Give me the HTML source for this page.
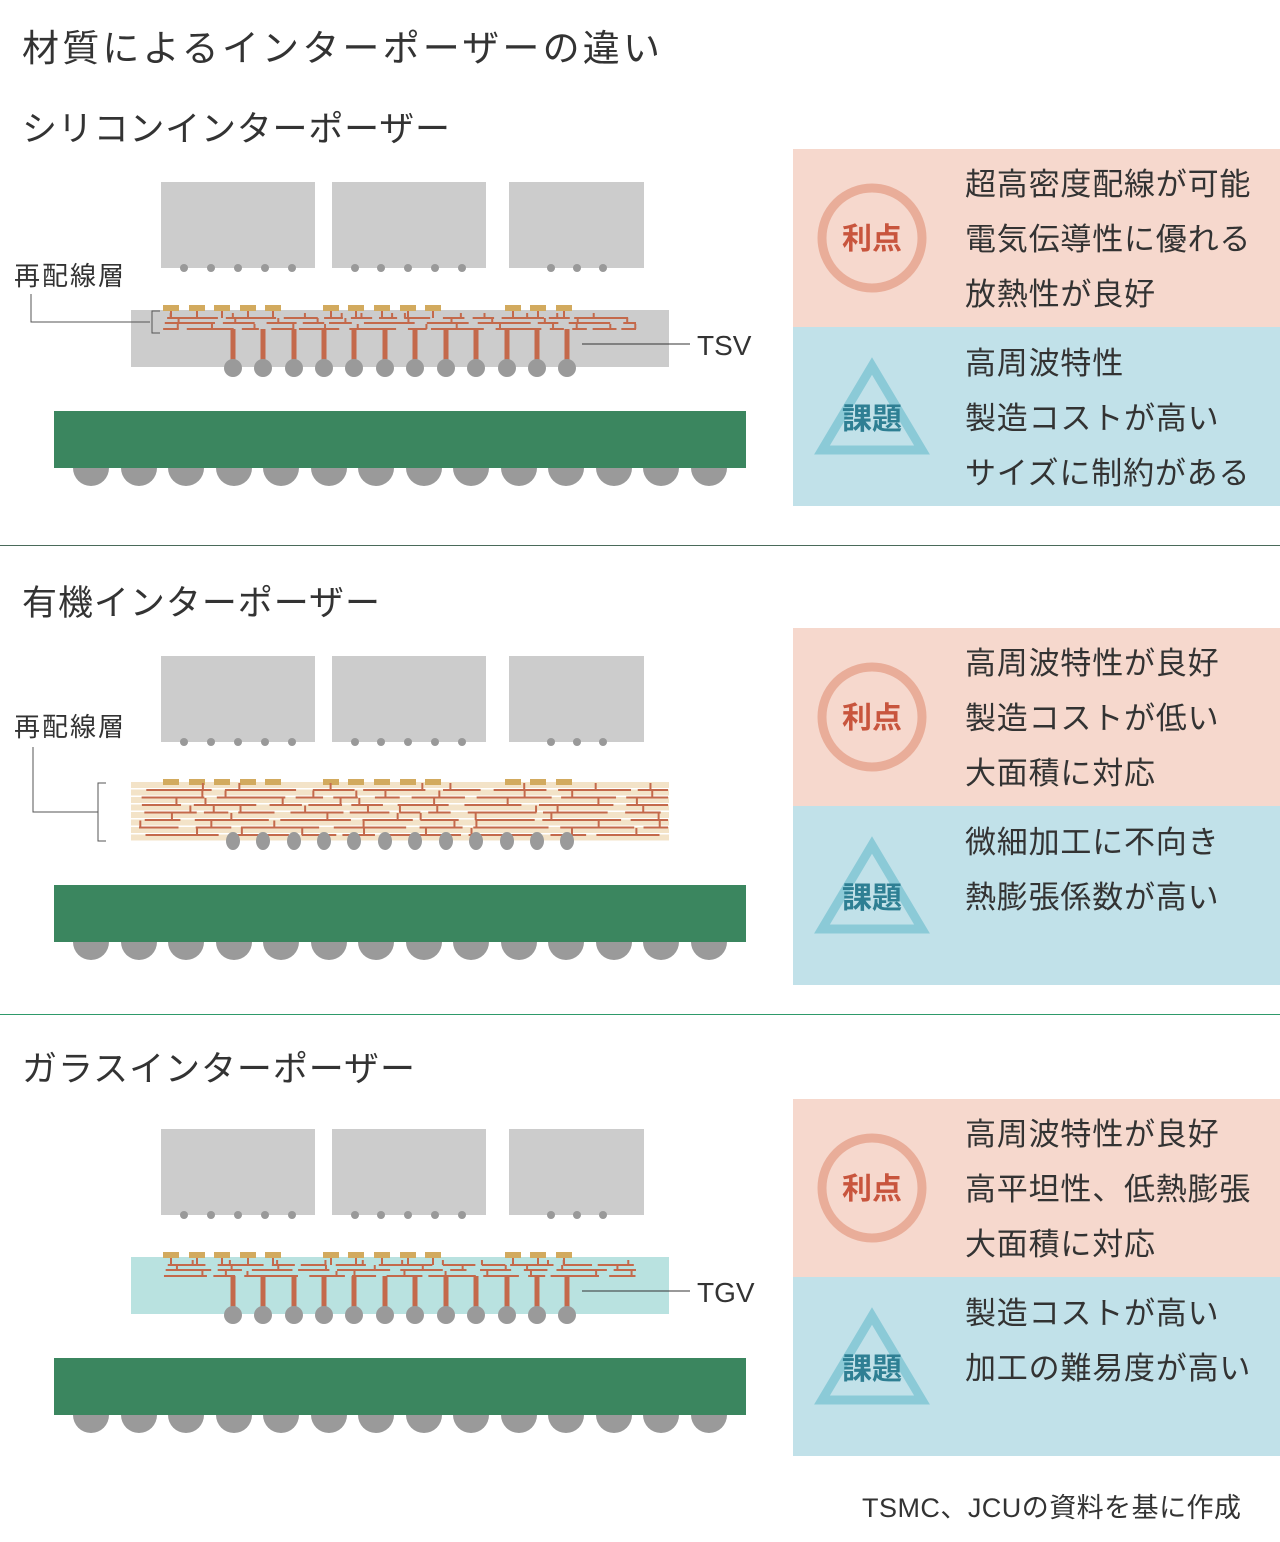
<!DOCTYPE html>
<html><head><meta charset="utf-8">
<style>
html,body{margin:0;padding:0;background:#fff;}
body{width:1280px;height:1542px;overflow:hidden;position:relative;font-family:"Liberation Sans","Noto Sans CJK JP",sans-serif;color:#333;}
svg{position:absolute;left:0;top:0;}
text{font-family:"Liberation Sans","Noto Sans CJK JP",sans-serif;}
</style></head>
<body>
<svg id="s" width="1280" height="1542" viewBox="0 0 1280 1542" xmlns="http://www.w3.org/2000/svg">
<text x="22" y="61" font-size="37" fill="#333" textLength="638" lengthAdjust="spacing">材質によるインターポーザーの違い</text>
<line x1="0" y1="545.5" x2="1280" y2="545.5" stroke="#4a6a5a" stroke-width="1"/>
<line x1="0" y1="1014.5" x2="1280" y2="1014.5" stroke="#2e9a6a" stroke-width="1"/>
<text x="862" y="1517" font-size="27" fill="#333" textLength="379" lengthAdjust="spacing">TSMC、JCUの資料を基に作成</text>
</svg>
<script>
var s=document.getElementById('s');var h='';
function R(seed){var x=seed;return function(){x=(x*9301+49297)%233280;return x/233280;};}
var pads=[171,197,222,248,273,331,356,382,408,433,513,538,564];
var vias=[233,263,294,324,354,385,415,446,476,507,537,567];
var chipB=[184,211,238,265,292,355,381,408,435,462,551,577,603];
var subB=[91,139,186,234,281,329,376,424,471,519,566,614,661,709];
var wc='#c4694b';
var secs=[
 {o:0,t:'シリコンインターポーザー',tl:428,type:'si',p:['超高密度配線が可能','電気伝導性に優れる','放熱性が良好'],k:['高周波特性','製造コストが高い','サイズに制約がある']},
 {o:474,t:'有機インターポーザー',tl:358,type:'org',p:['高周波特性が良好','製造コストが低い','大面積に対応'],k:['微細加工に不向き','熱膨張係数が高い']},
 {o:947,t:'ガラスインターポーザー',tl:393,type:'gl',p:['高周波特性が良好','高平坦性、低熱膨張','大面積に対応'],k:['製造コストが高い','加工の難易度が高い']}
];
secs.forEach(function(S,si){
 var o=S.o;
 var ty=(si==0?141:si==1?615:1081);
 h+='<text x="22" y="'+ty+'" font-size="35" fill="#333" textLength="'+S.tl+'" lengthAdjust="spacing">'+S.t+'</text>';
 [[161,154],[332,154],[509,135]].forEach(function(c){h+='<rect x="'+c[0]+'" y="'+(182+o)+'" width="'+c[1]+'" height="86" fill="#cccccc"/>';});
 chipB.forEach(function(x){h+='<circle cx="'+x+'" cy="'+(268+o)+'" r="4" fill="#999"/>';});
 h+='<rect x="54" y="'+(411+o)+'" width="692" height="57" fill="#3b865f"/>';
 subB.forEach(function(x){h+='<path d="M'+(x-18)+' '+(468+o)+' A18 18 0 0 0 '+(x+18)+' '+(468+o)+'Z" fill="#9a9a9a"/>';});
 var rnd=R(17+si);
 if(S.type!='org'){
  h+='<rect x="131" y="'+(310+o)+'" width="538" height="57" fill="'+(S.type=='si'?'#cccccc':'#b9e2e0')+'"/>';
  pads.forEach(function(x){h+='<rect x="'+(x-8)+'" y="'+(305+o)+'" width="16" height="6" fill="#d2aa5e"/>';h+='<line x1="'+x+'" y1="'+(311+o)+'" x2="'+x+'" y2="'+(318+o)+'" stroke="'+wc+'" stroke-width="2"/>';});
  [318,323,329].forEach(function(y,ri){var x=160+rnd()*8;while(x<630){var w=14+rnd()*40;if(x+w>636)w=636-x;h+='<line x1="'+x+'" y1="'+(y+o)+'" x2="'+(x+w)+'" y2="'+(y+o)+'" stroke="'+wc+'" stroke-width="2"/>';var mx=x+w*rnd();h+='<line x1="'+mx+'" y1="'+(y-5+o)+'" x2="'+mx+'" y2="'+(y+o)+'" stroke="'+wc+'" stroke-width="2"/>';x+=w+4+rnd()*10;}});
  vias.forEach(function(x){h+='<rect x="'+(x-2.5)+'" y="'+(329+o)+'" width="5" height="32" fill="'+wc+'"/><circle cx="'+x+'" cy="'+(368+o)+'" r="9" fill="#9a9a9a"/>';});
  if(si==0)h+='<polyline points="31,294 31,322 150,322" fill="none" stroke="#555" stroke-width="1"/>';
  if(si==0)h+='<polyline points="160,311 152,311 152,333 160,333" fill="none" stroke="#555" stroke-width="1"/>';
  h+='<line x1="582" y1="'+(344+o)+'" x2="690" y2="'+(344+o)+'" stroke="#333" stroke-width="1"/>';
  h+='<text x="697" y="'+(355+o)+'" font-size="28" fill="#333">'+(S.type=='si'?'TSV':'TGV')+'</text>';
  if(si==0)h+='<text x="14" y="285" font-size="26" fill="#333" textLength="110" lengthAdjust="spacing">再配線層</text>';
 } else {
  for(var y=782;y<840;y+=7.5){h+='<rect x="131" y="'+y+'" width="538" height="6" fill="#f3e3c8"/>';}
  pads.forEach(function(x){h+='<rect x="'+(x-8)+'" y="'+(779)+'" width="16" height="6" fill="#d2aa5e"/>';});
  for(var r=0;r<7;r++){var y=790+r*7.5;var x=137+rnd()*10;while(x<660){var w=20+rnd()*60;if(x+w>668)w=668-x;h+='<line x1="'+x+'" y1="'+y+'" x2="'+(x+w)+'" y2="'+y+'" stroke="'+wc+'" stroke-width="2"/>';var mx=x+w*rnd();h+='<line x1="'+mx+'" y1="'+(y-7)+'" x2="'+mx+'" y2="'+y+'" stroke="'+wc+'" stroke-width="2"/>';x+=w+6+rnd()*12;}}
  vias.forEach(function(x){h+='<ellipse cx="'+x+'" cy="841" rx="7" ry="9" fill="#9a9a9a"/>';});
  h+='<text x="14" y="736" font-size="26" fill="#333" textLength="110" lengthAdjust="spacing">再配線層</text>';
  h+='<polyline points="33,747 33,812 98,812" fill="none" stroke="#555" stroke-width="1"/>';
  h+='<polyline points="106,783 98,783 98,841 106,841" fill="none" stroke="#555" stroke-width="1"/>';
 }
 var py=(si==0?149:si==1?628:1099);
 h+='<rect x="793" y="'+py+'" width="487" height="178" fill="#f6d8cd"/>';
 h+='<rect x="793" y="'+(py+178)+'" width="487" height="179" fill="#c1e1e9"/>';
 h+='<circle cx="872" cy="'+(py+89)+'" r="50" fill="none" stroke="#e9ad99" stroke-width="9"/>';
 h+='<text x="872" y="'+(py+100)+'" font-size="30" font-weight="bold" fill="#c8553d" text-anchor="middle">利点</text>';
 var ty2=py+178+33;
 h+='<polygon points="872,'+(ty2+6)+' 822,'+(ty2+90)+' 922,'+(ty2+90)+'" fill="none" stroke="#8bcad7" stroke-width="9" stroke-linejoin="miter"/>';
 h+='<text x="872" y="'+(ty2+69)+'" font-size="30" font-weight="bold" fill="#2e7f93" text-anchor="middle">課題</text>';
 S.p.forEach(function(t,i){h+='<text x="965" y="'+(py+46+i*55)+'" font-size="31" fill="#333" letter-spacing="0.8">'+t+'</text>';});
 S.k.forEach(function(t,i){h+='<text x="965" y="'+(py+225+i*55)+'" font-size="31" fill="#333" letter-spacing="0.8">'+t+'</text>';});
});
s.insertAdjacentHTML('beforeend',h);
</script>
</body></html>
